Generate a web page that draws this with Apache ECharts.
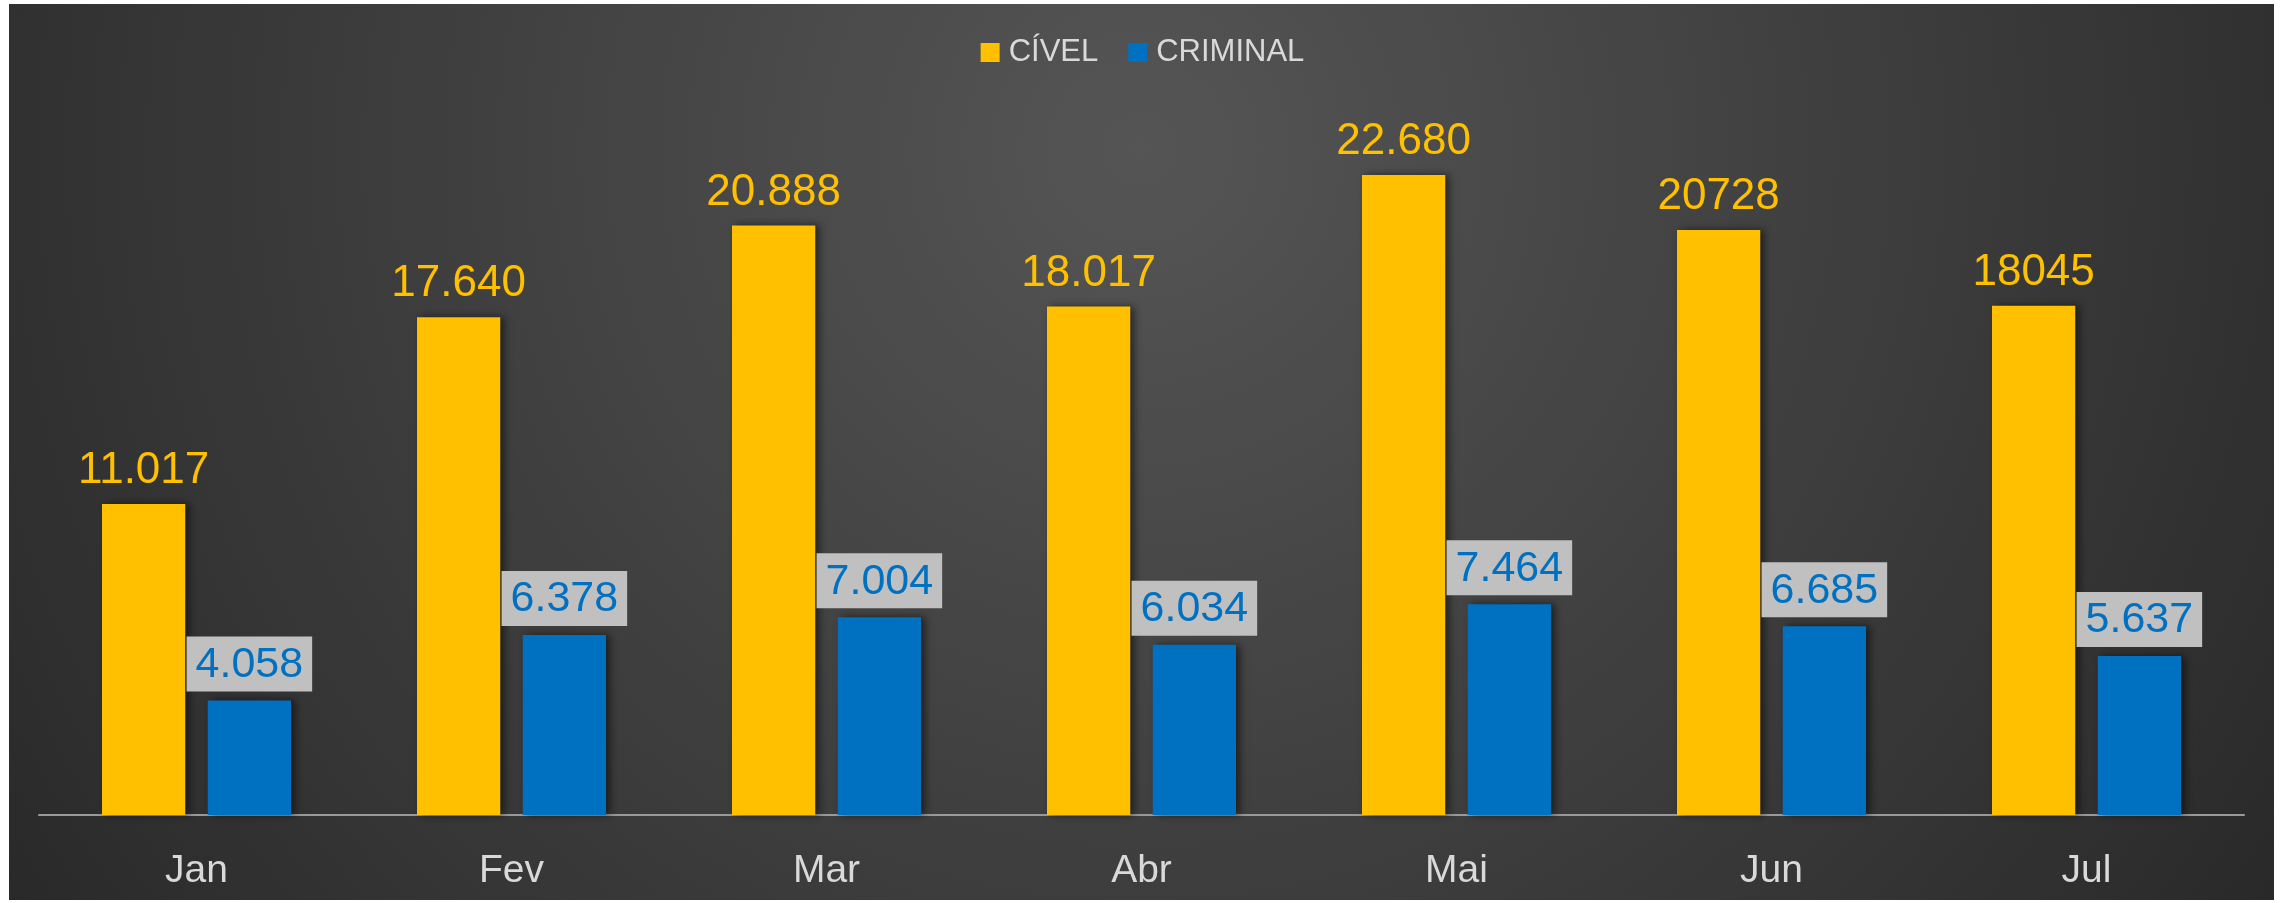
<!DOCTYPE html>
<html>
<head>
<meta charset="utf-8">
<script src="https://cdn.jsdelivr.net/npm/echarts@6/dist/echarts.min.js"></script>
<style>
  html, body { margin: 0; padding: 0; background: #fff; }
  #chart { width: 2285px; height: 903px; }
</style>
</head>
<body>
<div id="chart"></div>
<script>
const months = ['Jan', 'Fev', 'Mar', 'Abr', 'Mai', 'Jun', 'Jul'];
const civel = [11017, 17640, 20888, 18017, 22680, 20728, 18045];
const civelLabels = ['11.017', '17.640', '20.888', '18.017', '22.680', '20728', '18045'];
const criminal = [4058, 6378, 7004, 6034, 7464, 6685, 5637];
const criminalLabels = ['4.058', '6.378', '7.004', '6.034', '7.464', '6.685', '5.637'];

const chart = echarts.init(document.getElementById('chart'));
const font = 'Liberation Sans, Arial, sans-serif';
const shadow = { shadowBlur: 8, shadowColor: 'rgba(0,0,0,0.55)', shadowOffsetX: 4, shadowOffsetY: 0 };

chart.setOption({
  animation: false,
  graphic: [{
    type: 'rect', z: -10, silent: true,
    shape: { x: 9, y: 4, width: 2265, height: 896 },
    style: {
      fill: new echarts.graphic.RadialGradient(1140, 150, 1400, [
        { offset: 0, color: '#555555' },
        { offset: 0.25, color: '#4a4a4a' },
        { offset: 1, color: '#282828' }
      ], true)
    }
  }],
  legend: {
    data: ['CÍVEL', 'CRIMINAL'],
    top: 32, left: 'center',
    icon: 'rect', itemWidth: 19, itemHeight: 19, itemGap: 30,
    textStyle: { color: '#d9d9d9', fontSize: 31, fontFamily: font, padding: [0, 0, 0, 4] }
  },
  grid: { left: 39, right: 41, top: 53, bottom: 88 },
  xAxis: {
    type: 'category', data: months,
    axisLine: { lineStyle: { color: '#9a9a9a', width: 2 } },
    axisTick: { show: false },
    axisLabel: { color: '#d9d9d9', fontSize: 39, fontFamily: font, margin: 37 }
  },
  yAxis: { type: 'value', min: 0, max: 27000, show: false, splitLine: { show: false } },
  series: [
    {
      name: 'CÍVEL', type: 'bar', data: civel,
      barCategoryGap: '40%', barGap: '27%',
      itemStyle: Object.assign({ color: '#FFC000' }, shadow),
      label: {
        show: true, position: 'top', distance: 11,
        color: '#FFC000', fontSize: 44, fontFamily: font,
        formatter: p => civelLabels[p.dataIndex]
      }
    },
    {
      name: 'CRIMINAL', type: 'bar', data: criminal,
      barCategoryGap: '40%', barGap: '27%',
      itemStyle: Object.assign({ color: '#0070C0' }, shadow),
      label: {
        show: true, position: 'top', distance: 9,
        color: '#0070C0', fontSize: 43, fontFamily: font,
        backgroundColor: '#C0C0C0', padding: [7, 9, 5, 9],
        formatter: p => criminalLabels[p.dataIndex]
      }
    }
  ]
});
</script>
</body>
</html>
